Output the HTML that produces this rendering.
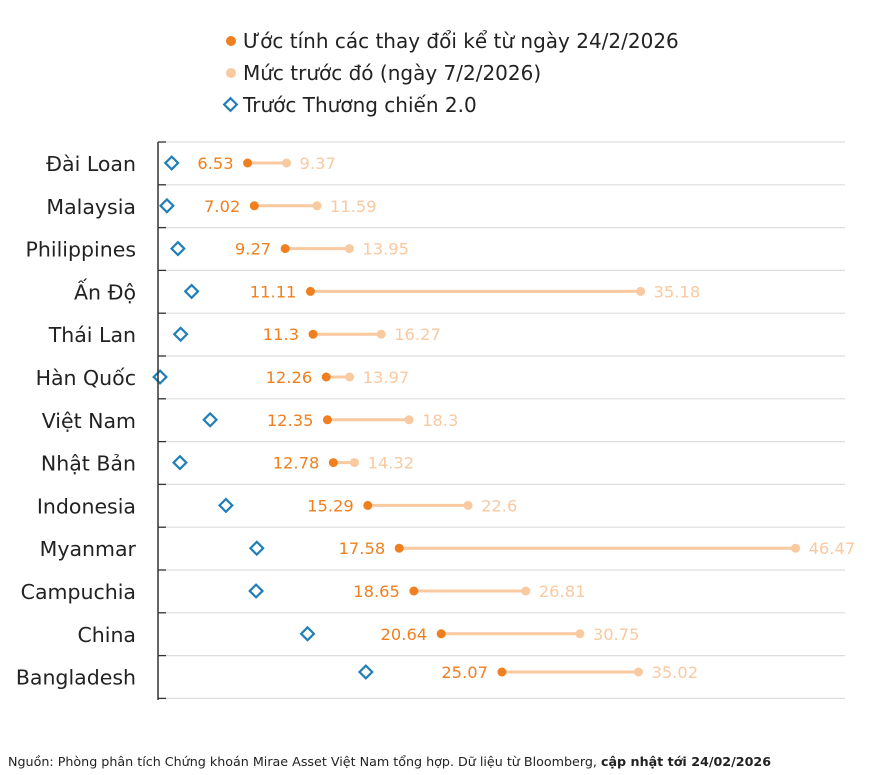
<!DOCTYPE html>
<html><head><meta charset="utf-8"><style>
body{margin:0;background:#fff;width:881px;height:771px;overflow:hidden;font-family:"DejaVu Sans",sans-serif}
</style></head><body>
<svg width="881" height="771" xmlns="http://www.w3.org/2000/svg" font-family="DejaVu Sans, sans-serif">
<circle cx="231" cy="41" r="5" fill="#f07f1f"/>
<text x="243" y="48" font-size="20" fill="#222">Ước tính các thay đổi kể từ ngày 24/2/2026</text>
<circle cx="231" cy="73" r="5" fill="#f9c9a0"/>
<text x="243" y="80" font-size="20" fill="#222">Mức trước đó (ngày 7/2/2026)</text>
<rect x="226" y="100" width="9" height="9" fill="#fff" stroke="#1f7fb8" stroke-width="2.2" transform="rotate(45 230.5 104.5)"/>
<text x="243" y="112" font-size="20" fill="#222">Trước Thương chiến 2.0</text>
<g id="rows"></g>
<line x1="158" y1="142" x2="158" y2="700" stroke="#333" stroke-width="1.5"/>
<text x="8" y="766" font-size="12.7" fill="#222">Nguồn: Phòng phân tích Chứng khoán Mirae Asset Việt Nam tổng hợp. Dữ liệu từ Bloomberg, <tspan font-weight="bold">cập nhật tới 24/02/2026</tspan></text>
</svg>
<script>
const d=[["Đài Loan",6.53,9.37,1.0],["Malaysia",7.02,11.59,0.65],["Philippines",9.27,13.95,1.45],["Ấn Độ",11.11,35.18,2.45],["Thái Lan",11.3,16.27,1.65],["Hàn Quốc",12.26,13.97,0.15],["Việt Nam",12.35,18.3,3.8],["Nhật Bản",12.78,14.32,1.6],["Indonesia",15.29,22.6,4.95],["Myanmar",17.58,46.47,7.2],["Campuchia",18.65,26.81,7.15],["China",20.64,30.75,10.9],["Bangladesh",25.07,35.02,15.15]];
const X=v=>158+v*13.72;let s="";
for(let i=0;i<=13;i++){const gy=142+i*42.8;s+=`<line x1="158" y1="${gy}" x2="845" y2="${gy}" stroke="#ddd" stroke-width="1.2"/><line x1="158" y1="${gy}" x2="166" y2="${gy}" stroke="#333" stroke-width="1.3"/>`;}
d.forEach((r,i)=>{const y=163+i*42.8,cy=i==12?672:y;
s+=`<text x="136" y="${y+8}" font-size="20.5" text-anchor="end" fill="#222">${r[0]}</text>`;
s+=`<line x1="${X(r[1])}" y1="${cy}" x2="${X(r[2])}" y2="${cy}" stroke="#f9c9a0" stroke-width="3"/>`;
s+=`<circle cx="${X(r[1])}" cy="${cy}" r="4.5" fill="#f07f1f"/><circle cx="${X(r[2])}" cy="${cy}" r="4.5" fill="#f9c9a0"/>`;
s+=`<text x="${X(r[1])-14}" y="${cy+6}" font-size="16.3" text-anchor="end" fill="#f07f1f">${r[1]}</text>`;
s+=`<text x="${X(r[2])+13}" y="${cy+6}" font-size="16.3" fill="#f9c9a0">${r[2]}</text>`;
const dx=X(r[3]);s+=`<rect x="${dx-4.5}" y="${cy-4.5}" width="9" height="9" fill="#fff" stroke="#1f7fb8" stroke-width="2.2" transform="rotate(45 ${dx} ${cy})"/>`;});
document.getElementById("rows").innerHTML=s;
</script>
</body></html>
